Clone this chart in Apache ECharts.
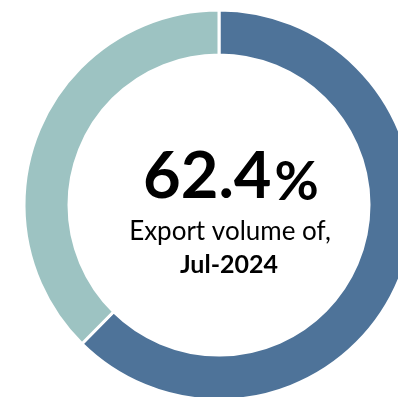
<!DOCTYPE html>
<html>
<head>
<meta charset="utf-8">
<script src="https://cdn.jsdelivr.net/npm/echarts@6/dist/echarts.min.js"></script>
<style>
  html, body { margin: 0; padding: 0; background: #fff; }
  #chart { width: 398px; height: 397px; }
</style>
</head>
<body>
<div id="chart"></div>
<script>
const categories = ["Export", "Other"];
const shares = [62.4, 37.6];
const colors = ["#4e7399", "#9dc3c2"];
const headline = "62.4";
const subtitle = "Export volume of,";
const period = "Jul-2024";

const myChart = echarts.init(document.getElementById("chart"));

const option = {
  animation: false,
  series: [
    {
      type: "pie",
      center: [219, 205],
      radius: [150, 195],
      startAngle: 90,
      clockwise: true,
      silent: true,
      label: { show: false },
      labelLine: { show: false },
      itemStyle: {
        borderColor: "#fff",
        borderWidth: 3,
      },
      data: categories.map((name, i) => ({
        name,
        value: shares[i],
        itemStyle: { color: colors[i] },
      })),
    },
  ],
  graphic: [
    {
      type: "text",
      x: 143,
      y: 145,
      style: {
        text: "{big|" + headline + "}{pct|%}",
        rich: {
          big: { fontFamily: "Lato", fontWeight: "bold", fontSize: 65, fill: "#000" },
          pct: { fontFamily: "Lato", fontWeight: "bold", fontSize: 54, fill: "#000", verticalAlign: "bottom", padding: [0, 0, 0, 3] },
        },
      },
    },
    {
      type: "text",
      x: 230,
      y: 245,
      style: {
        text: subtitle,
        fontFamily: "Lato",
        fontSize: 26,
        fill: "#000",
        align: "center",
        verticalAlign: "bottom",
      },
    },
    {
      type: "text",
      x: 229,
      y: 277,
      style: {
        text: period,
        fontFamily: "Lato",
        fontWeight: "bold",
        fontSize: 25,
        fill: "#000",
        align: "center",
        verticalAlign: "bottom",
      },
    },
  ],
};

myChart.setOption(option);
</script>
</body>
</html>
